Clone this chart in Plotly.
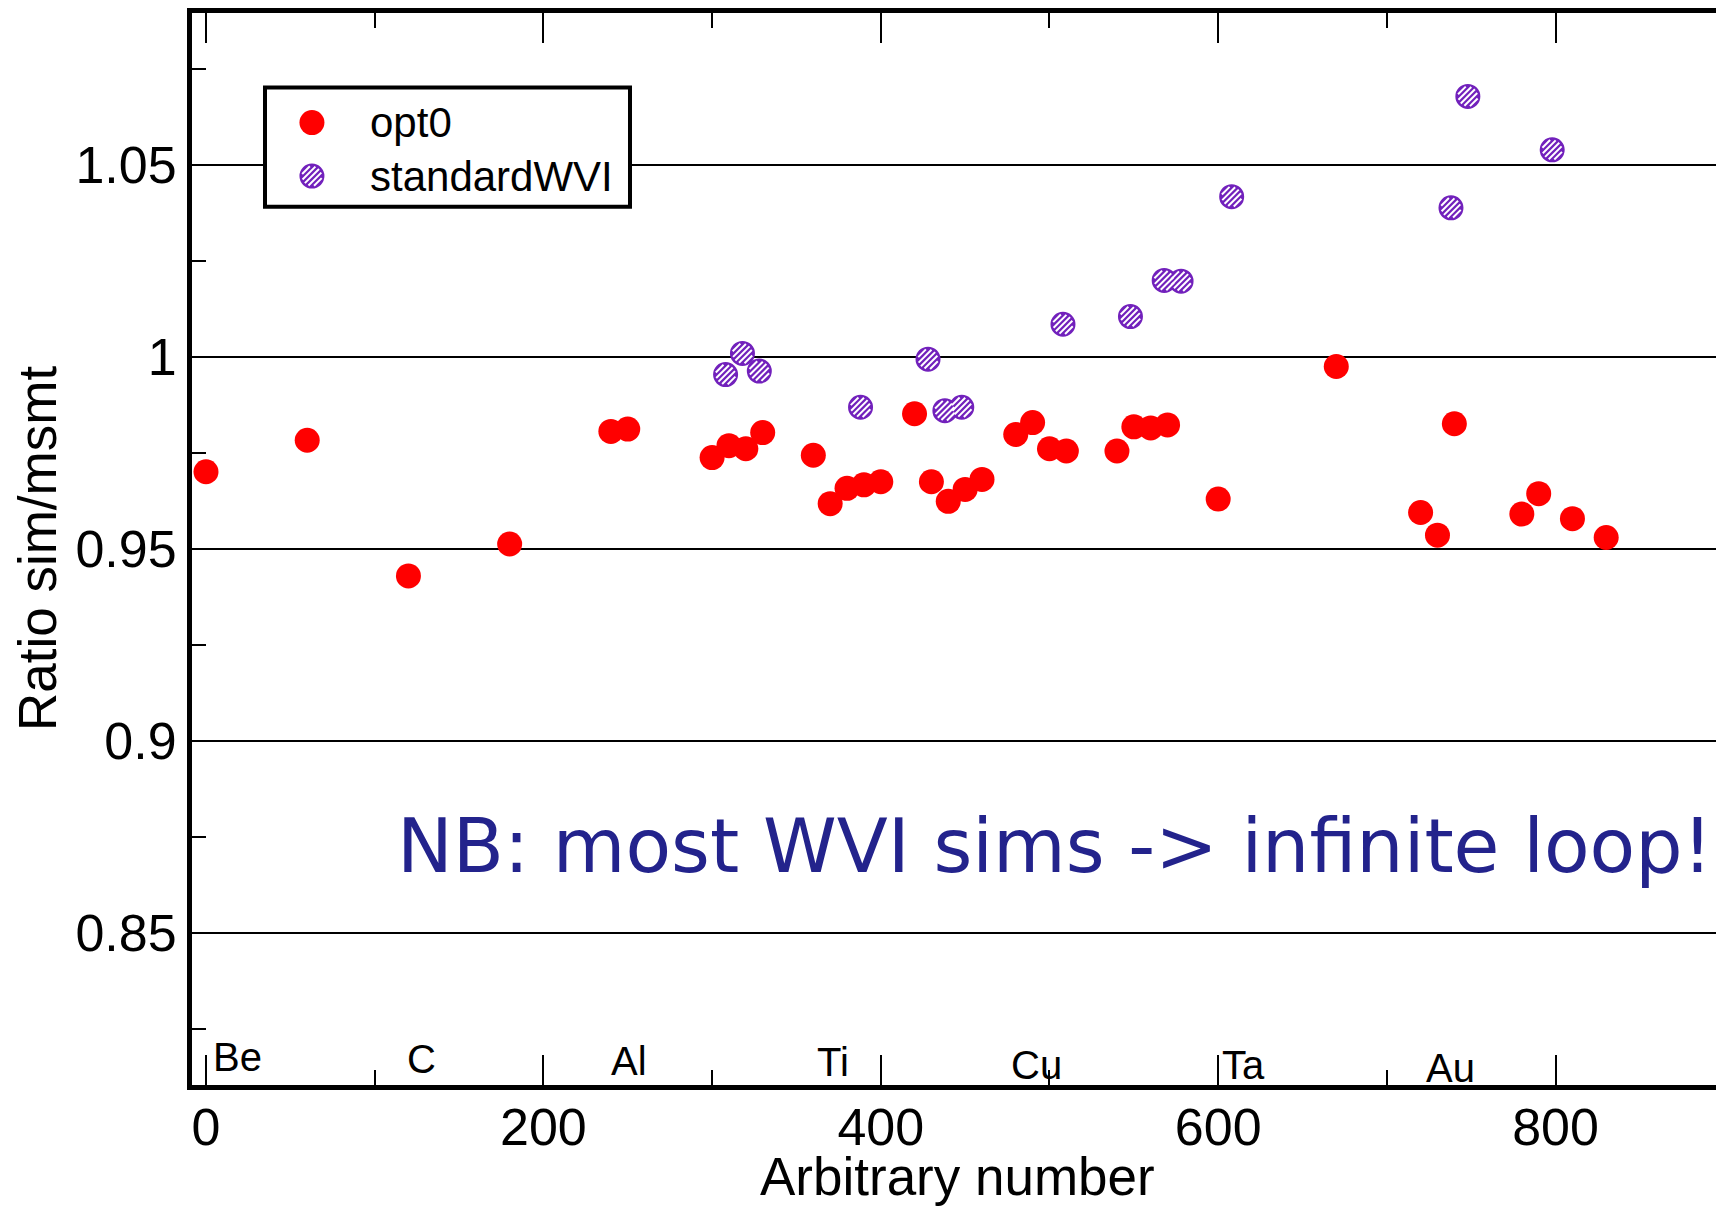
import math
import plotly.graph_objects as go

# ---- data -------------------------------------------------------------
opt0_x = [0, 60, 120, 180, 240, 250, 300, 310, 320, 330, 360, 370, 380, 390,
          400, 420, 430, 440, 450, 460, 480, 490, 500, 510, 540, 550, 560, 570,
          600, 670, 720, 730, 740, 780, 790, 810, 830]
opt0_y = [0.9701, 0.9783, 0.9430, 0.9513, 0.9806, 0.9812, 0.9738, 0.9769,
          0.9761, 0.9803, 0.9744, 0.9618, 0.9658, 0.9667, 0.9675, 0.9852,
          0.9675, 0.9624, 0.9655, 0.9681, 0.9798, 0.9829, 0.9761, 0.9755,
          0.9755, 0.9818, 0.9815, 0.9823, 0.9630, 0.9975, 0.9595, 0.9536,
          0.9826, 0.9591, 0.9644, 0.9579, 0.9530]

wvi_x = [308, 318, 328, 388, 428, 438, 448, 508, 548, 568, 578, 608, 738, 748, 798]
wvi_y = [0.9954, 1.0009, 0.9963, 0.9869, 0.9994, 0.9860, 0.9869, 1.0085,
         1.0105, 1.0199, 1.0197, 1.0417, 1.0388, 1.0678, 1.0539]

series_names = ["opt0", "standardWVI"]

element_names = ["Be", "C", "Al", "Ti", "Cu", "Ta", "Au"]
element_x = [3, 118, 238.6, 361, 476, 601, 722]
element_y = [0.8140, 0.8134, 0.8129, 0.8126, 0.8120, 0.8120, 0.8111]

x_tickvals = [0, 200, 400, 600, 800]
x_ticktext = ["0", "200", "400", "600", "800"]
x_minor = [100, 300, 500, 700]
y_tickvals = [0.85, 0.90, 0.95, 1.00, 1.05]
y_ticktext = ["0.85", "0.9", "0.95", "1", "1.05"]
y_minor = [0.825, 0.875, 0.925, 0.975, 1.025, 1.075]

note_text = "NB: most WVI sims -> infinite loop!"

# ---- styling ----------------------------------------------------------
RED = "#ff0000"
INDIGO = "#7221bc"
NAVY = "#23238c"
FONT = "Liberation Sans"
X_RANGE = [-8.3, 895.1]
Y_RANGE = [0.8105, 1.0895]


def hatch_path(r_in=10.0, step=4.2, n=2):
    """'/' hatching inside a circle, in pixel offsets around the anchor."""
    parts = []
    s = 1 / math.sqrt(2)
    for k in range(-n, n + 1):
        d = k * step
        h = math.sqrt(max(r_in ** 2 - d ** 2, 0))
        cx, cy = d * s, -d * s
        x0, y0 = cx - h * s, cy - h * s
        x1, y1 = cx + h * s, cy + h * s
        parts.append(f"M{x0:.2f},{y0:.2f} L{x1:.2f},{y1:.2f}")
    return " ".join(parts)


HATCH = hatch_path()

fig = go.Figure()

fig.add_trace(go.Scatter(
    x=opt0_x, y=opt0_y, mode="markers", name=series_names[0],
    marker=dict(symbol="circle", size=25, color=RED, line=dict(width=0)),
    showlegend=False,
))
fig.add_trace(go.Scatter(
    x=wvi_x, y=wvi_y, mode="markers", name=series_names[1],
    marker=dict(symbol="circle", size=23, color=INDIGO,
                line=dict(width=2, color=INDIGO)),
    showlegend=False,
))

shapes = []
# white hatching over each standardWVI point
for xv, yv in zip(wvi_x, wvi_y):
    shapes.append(dict(
        type="path", xref="x", yref="y", xsizemode="pixel", ysizemode="pixel",
        xanchor=xv, yanchor=yv, path=HATCH,
        line=dict(color="white", width=2), layer="above",
    ))

# legend box
shapes.append(dict(type="rect", xref="paper", yref="paper",
                   x0=0.0479, x1=0.2874, y0=0.8192, y1=0.9304,
                   fillcolor="white", line=dict(color="black", width=4),
                   layer="above"))
leg_x = 0.0787
leg_rows = [0.8978, 0.8479]
shapes.append(dict(type="circle", xref="paper", yref="paper",
                   xsizemode="pixel", ysizemode="pixel",
                   xanchor=leg_x, yanchor=leg_rows[0],
                   x0=-12.5, x1=12.5, y0=-12.5, y1=12.5,
                   fillcolor=RED, line=dict(width=0), layer="above"))
shapes.append(dict(type="circle", xref="paper", yref="paper",
                   xsizemode="pixel", ysizemode="pixel",
                   xanchor=leg_x, yanchor=leg_rows[1],
                   x0=-11.5, x1=11.5, y0=-11.5, y1=11.5,
                   fillcolor=INDIGO, line=dict(width=2, color=INDIGO),
                   layer="above"))
shapes.append(dict(type="path", xref="paper", yref="paper",
                   xsizemode="pixel", ysizemode="pixel",
                   xanchor=leg_x, yanchor=leg_rows[1], path=HATCH,
                   line=dict(color="white", width=2), layer="above"))

annotations = []
for name, ry in zip(series_names, leg_rows):
    annotations.append(dict(
        text=name, xref="paper", yref="paper", x=0.1155, y=ry,
        xanchor="left", yanchor="middle", showarrow=False,
        font=dict(family=FONT, size=42, color="black"),
    ))

for name, ex, ey in zip(element_names, element_x, element_y):
    annotations.append(dict(
        text=name, xref="x", yref="y", x=ex, y=ey,
        xanchor="left", yanchor="bottom", yshift=-9.5, showarrow=False,
        font=dict(family=FONT, size=40, color="black"),
    ))

annotations.append(dict(
    text=note_text, xref="x", yref="y", x=112.0, y=0.86545,
    xanchor="left", yanchor="bottom", yshift=-18.5, showarrow=False,
    font=dict(family="DejaVu Sans", size=74.6, color=NAVY),
))

# axis titles
annotations.append(dict(
    text="Ratio sim/msmt", xref="paper", yref="paper", x=-0.1017, y=0.5,
    xanchor="center", yanchor="middle", textangle=-90, showarrow=False,
    font=dict(family=FONT, size=53, color="black"),
))
annotations.append(dict(
    text="Arbitrary number", xref="paper", yref="paper", x=0.5024, y=-0.0858,
    xanchor="center", yanchor="middle", showarrow=False,
    font=dict(family=FONT, size=53, color="black"),
))

fig.update_layout(
    width=1716, height=1207,
    margin=dict(l=192, r=0, t=13, b=122, pad=0),
    paper_bgcolor="white", plot_bgcolor="white",
    showlegend=False,
    shapes=shapes, annotations=annotations,
    xaxis=dict(
        range=X_RANGE, tickmode="array", tickvals=x_tickvals, ticktext=x_ticktext,
        ticks="inside", ticklen=30, tickwidth=2, tickcolor="black",
        minor=dict(tickmode="array", tickvals=x_minor, ticks="inside",
                   ticklen=15, tickwidth=2, tickcolor="black", showgrid=False),
        showline=True, linewidth=5, linecolor="black", mirror="allticks",
        showgrid=False, zeroline=False, ticklabelstandoff=-7,
        tickfont=dict(family=FONT, size=52, color="black"),
    ),
    yaxis=dict(
        range=Y_RANGE, tickmode="array", tickvals=y_tickvals, ticktext=y_ticktext,
        ticks="inside", ticklen=30, tickwidth=2, tickcolor="black",
        minor=dict(tickmode="array", tickvals=y_minor, ticks="inside",
                   ticklen=14, tickwidth=2, tickcolor="black", showgrid=False),
        showline=True, linewidth=5, linecolor="black", mirror=False,
        showgrid=True, gridcolor="black", gridwidth=2, zeroline=False,
        ticklabelstandoff=0,
        tickfont=dict(family=FONT, size=52, color="black"),
    ),
    yaxis2=dict(
        range=Y_RANGE, overlaying="y", side="right", anchor="x",
        tickmode="array", tickvals=y_tickvals,
        ticks="inside", ticklen=8, tickwidth=2, tickcolor="black",
        minor=dict(tickmode="array", tickvals=y_minor, ticks="inside",
                   ticklen=8, tickwidth=2, tickcolor="black", showgrid=False),
        showticklabels=False, showline=False, showgrid=False, zeroline=False,
    ),
)

fig.write_html("out.html")
